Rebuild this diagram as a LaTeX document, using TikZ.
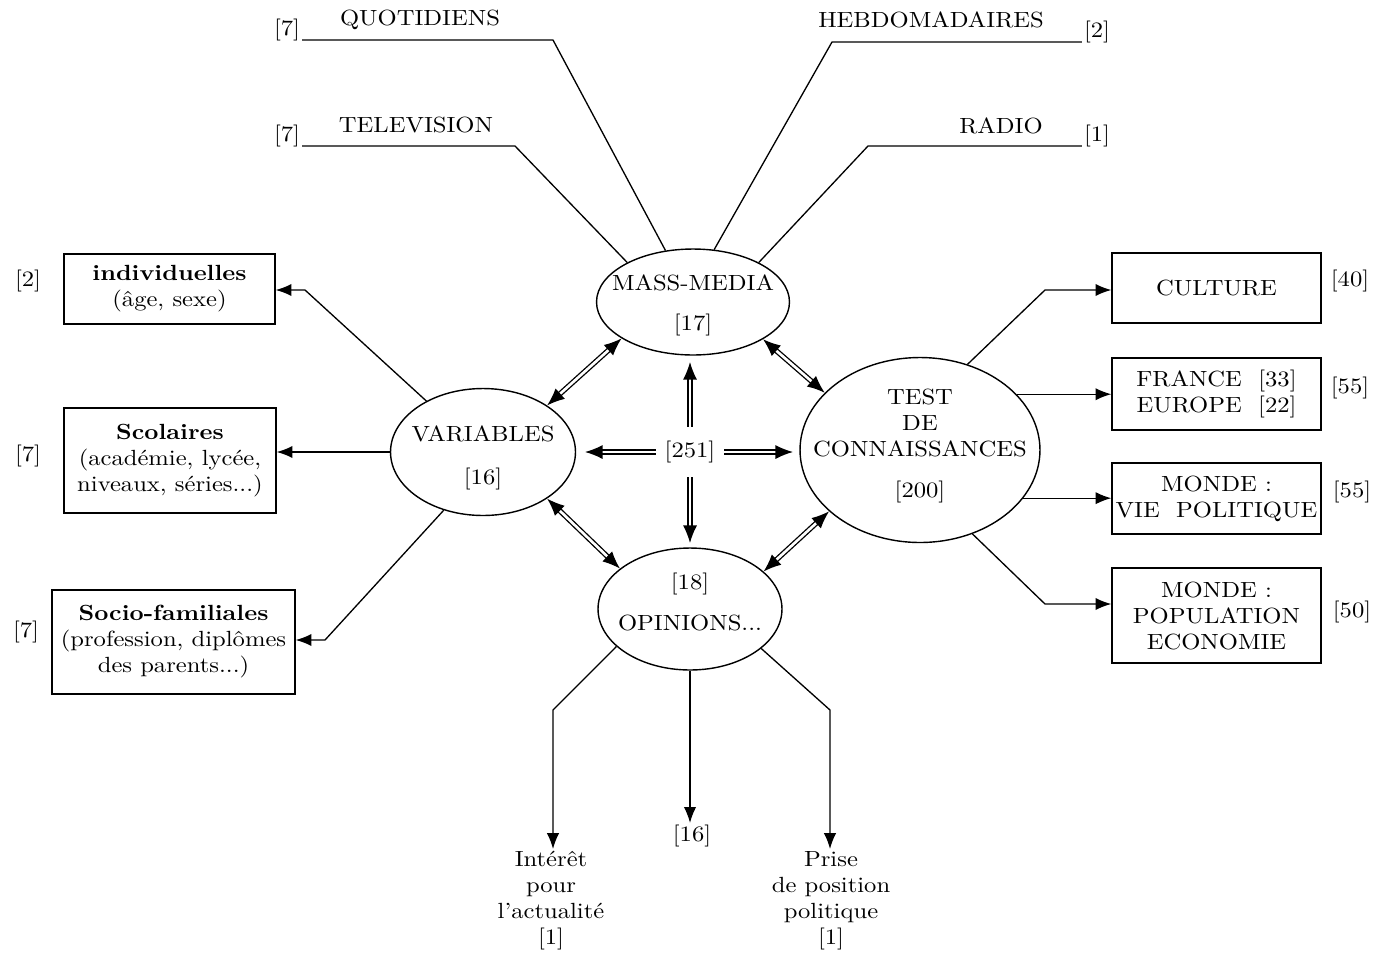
\documentclass[tikz,border=0pt]{standalone}
\usepackage{fontspec}
\setmainfont{lmroman10-regular.otf}[BoldFont=lmroman10-bold.otf, ItalicFont=lmroman10-italic.otf, FakeStretch=1.12]
\usetikzlibrary{arrows.meta,shapes.geometric}
\begin{document}
\begin{tikzpicture}[x=0.02cm,y=-0.02cm,
  font=\fontsize{12.5}{14.8}\selectfont,
  ell/.style={ellipse, draw, line width=0.8pt, inner sep=0pt},
  box/.style={rectangle, draw, line width=0.8pt, inner sep=0pt, align=center},
  lbl/.style={inner sep=1pt, align=center},
  con/.style={line width=0.75pt},
  arr/.style={con, -{Latex[length=9pt,width=7pt]}},
  dbl/.style={double, double distance=1.5pt, line width=0.75pt,
    {Latex[length=10pt,width=8pt]}-{Latex[length=10pt,width=8pt]}},
  dbls/.style={double, double distance=1.5pt, line width=0.75pt,
    -{Latex[length=10pt,width=8pt]}}
]
\useasboundingbox (0,0) rectangle (1393,958);

% ellipses
\node[ell, minimum width=3.86cm, minimum height=2.12cm,
  label={[lbl, yshift=-2pt]center:MASS-MEDIA\\[8pt]{[17]}}] (mm) at (693,302) {};
\node[ell, minimum width=3.7cm, minimum height=2.54cm,
  label={[lbl, yshift=-3.4pt]center:VARIABLES\\[10pt]{[16]}}] (var) at (483,452) {};
\node[ell, minimum width=4.8cm, minimum height=3.7cm,
  label={[lbl, yshift=2.3pt]center:TEST\\DE\\CONNAISSANCES\\[9pt]{[200]}}] (test) at (920,450) {};
\node[ell, minimum width=3.68cm, minimum height=2.44cm,
  label={[lbl, yshift=4pt]center:{[18]}\\[9pt]OPINIONS...}] (op) at (690,609) {};
\node[lbl, inner xsep=5pt, inner ysep=8pt] (c) at (690,452) {[251]};

% left boxes
\node[box, minimum width=4.22cm, minimum height=1.40cm] (ind) at (169.5,289)
  {\textbf{individuelles}\\(âge, sexe)};
\node[box, minimum width=4.24cm, minimum height=2.10cm] (sco) at (170,460.5)
  {\textbf{Scolaires}\\(académie, lycée,\\niveaux, séries...)};
\node[box, minimum width=4.86cm, minimum height=2.08cm] (soc) at (173.5,642)
  {\textbf{Socio-familiales}\\(profession, diplômes\\des parents...)};
\node[lbl] (lind) at (28,281) {[2]};
\node[lbl] (lsco) at (28,456) {[7]};
\node[lbl] (lsoc) at (26,632) {[7]};

% right boxes
\node[box, minimum width=4.18cm, minimum height=1.40cm] (cul) at (1216.5,288)
  {CULTURE};
\node[box, minimum width=4.18cm, minimum height=1.44cm] (fr) at (1216.5,394)
  {FRANCE~~[33]\\EUROPE~~[22]};
\node[box, minimum width=4.18cm, minimum height=1.42cm] (mv) at (1216.5,498.5)
  {MONDE :\\VIE~~POLITIQUE};
\node[box, minimum width=4.18cm, minimum height=1.90cm] (pop) at (1216.5,615.5)
  {MONDE :\\POPULATION\\ECONOMIE};
\node[lbl] (lcul) at (1350,281) {[40]};
\node[lbl] (lfr) at (1350,388) {[55]};
\node[lbl] (lmv) at (1352,492) {[55]};
\node[lbl] (lpop) at (1352,612) {[50]};

% top labels
\node[lbl] (qn) at (420,20) {QUOTIDIENS};
\node[lbl] (tn) at (416,125) {TELEVISION};
\node[lbl] (hn) at (931,20) {HEBDOMADAIRES};
\node[lbl] (rn) at (1001,126) {RADIO};
\node[lbl] (q7) at (287,30) {[7]};
\node[lbl] (t7) at (287,136) {[7]};
\node[lbl] (h2) at (1097,32) {[2]};
\node[lbl] (r1) at (1097,136) {[1]};

\coordinate (q1) at (553,40);
\coordinate (t1) at (515,146);
\coordinate (h1) at (832,42);
\coordinate (r0) at (868,146);
\draw[con] (q7.east |- q1) -- (q1) -- (mm);
\draw[con] (t7.east |- t1) -- (t1) -- (mm.149);
\draw[con] (h2.west |- h1) -- (h1) -- (mm.68);
\draw[con] (r1.west |- r0) -- (r0) -- (mm.31);

% bottom labels
\node[lbl, anchor=north] (int) at (551,849) {Intérêt\\pour\\l'actualité\\{[1]}};
\node[lbl, anchor=north] (pri) at (831,849) {Prise\\de position\\politique\\{[1]}};
\node[lbl] (n16) at (692,836) {[16]};

% left connectors
\coordinate (k1) at (305,290);
\coordinate (k2) at (325,640);
\draw[arr] (var.138) -- (k1) -- (k1 -| ind.east);
\draw[arr] (var.west) -- (var.west -| sco.east);
\draw[arr] (var.236) -- (k2) -- (k2 -| soc.east);

% right connectors
\coordinate (k3) at (1045,290);
\coordinate (k4) at (1045,604);
\draw[arr] (test.61) -- (k3) -- (k3 -| cul.west);
\draw[arr] (test.30) -- (test.30 -| fr.west);
\draw[arr] (test.-25) -- (test.-25 -| mv.west);
\draw[arr] (test.302) -- (k4) -- (k4 -| pop.west);

% bottom connectors
\coordinate (k5) at (553,710);
\coordinate (k6) at (830,710);
\draw[arr] (op.207) -- (k5) -- (k5 |- int.north);
\draw[arr] (op.south) -- (op.south |- n16.north);
\draw[arr] (op.331) -- (k6) -- (k6 |- pri.north);

% double arrows between ellipses
\draw[dbl] (mm.207) -- (var.36);
\draw[dbl] (mm.332) -- (test.149);
\draw[dbl] (var.324) -- (op.150);
\draw[dbl] (test.214) -- (op.27);

% center arrows
\coordinate (cl) at (585,452);
\coordinate (cr) at (793,452);
\coordinate (cu) at (690,362);
\coordinate (cd) at (690,543);
\draw[dbls] (c.west) -- (cl);
\draw[dbls] (c.east) -- (cr);
\draw[dbls] (c.north) -- (cu);
\draw[dbls] (c.south) -- (cd);
\end{tikzpicture}
\end{document}
